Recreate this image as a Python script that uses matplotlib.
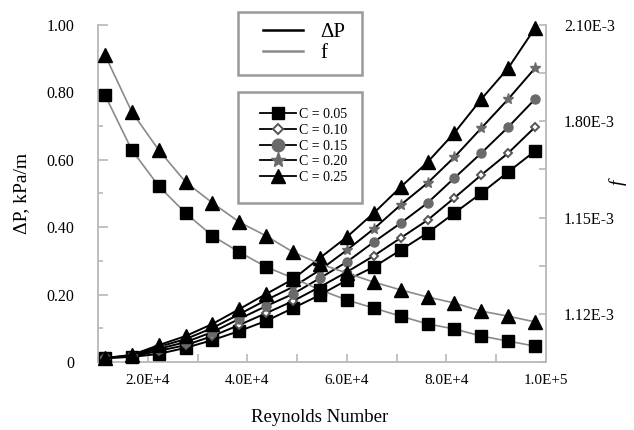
import matplotlib
matplotlib.use('Agg')
import matplotlib.pyplot as plt
from matplotlib.lines import Line2D
from matplotlib.patches import Rectangle
from matplotlib.ticker import FixedLocator, FixedFormatter, MultipleLocator

plt.rcParams['font.family'] = ['Liberation Serif', 'DejaVu Serif']

# ---------------- data ----------------
reynolds = [11400, 16800, 22200, 27600, 33000, 38400, 43800, 49200, 54600,
            60000, 65400, 70800, 76200, 81600, 87000, 92400, 97800]

dp_c005 = [0.012, 0.015, 0.024, 0.042, 0.065, 0.092, 0.122, 0.160, 0.199,
           0.243, 0.282, 0.332, 0.383, 0.442, 0.501, 0.564, 0.626]
dp_c010 = [0.012, 0.016, 0.033, 0.050, 0.077, 0.110, 0.145, 0.181, 0.223,
           0.267, 0.315, 0.368, 0.421, 0.487, 0.555, 0.620, 0.697]
dp_c015 = [0.012, 0.018, 0.039, 0.059, 0.089, 0.128, 0.166, 0.202, 0.249,
           0.297, 0.356, 0.412, 0.472, 0.546, 0.620, 0.697, 0.780]
dp_c020 = [0.012, 0.019, 0.045, 0.068, 0.101, 0.142, 0.184, 0.223, 0.273,
           0.332, 0.395, 0.466, 0.531, 0.608, 0.694, 0.780, 0.872]
dp_c025 = [0.012, 0.021, 0.050, 0.077, 0.113, 0.157, 0.202, 0.246, 0.309,
           0.371, 0.442, 0.519, 0.593, 0.680, 0.780, 0.872, 0.991]

# friction factor curves, drawn on the left-axis scale (as in the original)
f_c005 = [0.792, 0.629, 0.522, 0.442, 0.374, 0.326, 0.282, 0.249, 0.214,
          0.184, 0.160, 0.136, 0.113, 0.098, 0.077, 0.062, 0.047]
f_c025 = [0.911, 0.742, 0.629, 0.534, 0.472, 0.415, 0.374, 0.326, 0.291,
          0.264, 0.237, 0.214, 0.193, 0.175, 0.151, 0.136, 0.119]

c_labels = ['C = 0.05', 'C = 0.10', 'C = 0.15', 'C = 0.20', 'C = 0.25']
left_tick_labels = ['0', '0.20', '0.40', '0.60', '0.80', '1.00']
x_tick_labels = ['2.0E+4', '4.0E+4', '6.0E+4', '8.0E+4', '1.0E+5']
right_tick_labels = ['', '1.12E-3', '', '1.15E-3', '', '1.80E-3', '', '2.10E-3']

# ---------------- styles ----------------
GRAY_SPINE = '#b8b8b8'
GRAY_MARK = '#6a6a6a'
GRAY_F = '#8a8a8a'

styles = [
    dict(marker='s', ms=8.5, mfc='black', mec='black'),
    dict(marker='D', ms=4.5, mfc='white', mec='#555555', mew=1.4),
    dict(marker='o', ms=6.5, mfc=GRAY_MARK, mec=GRAY_MARK),
    dict(marker='*', ms=8, mfc=GRAY_MARK, mec=GRAY_MARK),
    dict(marker='^', ms=10.5, mfc='black', mec='black'),
]
legend_styles = [
    dict(marker='s', ms=9, mfc='black', mec='black'),
    dict(marker='D', ms=5, mfc='white', mec='#555555', mew=1.4),
    dict(marker='o', ms=9, mfc=GRAY_MARK, mec=GRAY_MARK),
    dict(marker='*', ms=11, mfc=GRAY_MARK, mec=GRAY_MARK),
    dict(marker='^', ms=10, mfc='black', mec='black'),
]

fig = plt.figure(figsize=(6.34, 4.30), dpi=100)
ax = fig.add_axes([98 / 634, 1 - 362 / 430, 448 / 634, 337 / 430])

dp_series = [dp_c005, dp_c010, dp_c015, dp_c020, dp_c025]
for vals, st in zip(dp_series, styles):
    ax.plot(reynolds, vals, color='black', lw=1.4, clip_on=False, zorder=3, **st)

ax.plot(reynolds, f_c005, color=GRAY_F, lw=1.2, clip_on=False, zorder=4, **styles[0])
ax.plot(reynolds, f_c025, color=GRAY_F, lw=1.2, clip_on=False, zorder=4, **styles[4])

ax.set_xlim(10000, 100000)
ax.set_ylim(0, 1.0)

for s in ['top', 'right']:
    ax.spines[s].set_visible(False)
for s in ['left', 'bottom']:
    ax.spines[s].set_color(GRAY_SPINE)
    ax.spines[s].set_linewidth(1.3)

ax.yaxis.set_major_locator(FixedLocator([0, 0.2, 0.4, 0.6, 0.8, 1.0]))
ax.yaxis.set_major_formatter(FixedFormatter(left_tick_labels))
ax.yaxis.set_minor_locator(MultipleLocator(0.1))
ax.xaxis.set_major_locator(FixedLocator([20000, 40000, 60000, 80000, 100000]))
ax.xaxis.set_major_formatter(FixedFormatter(x_tick_labels))
ax.xaxis.set_minor_locator(MultipleLocator(10000))

ax.tick_params(axis='y', which='major', direction='in', length=7, width=1.2,
               color=GRAY_SPINE, labelsize=11.5, pad=17)
ax.tick_params(axis='y', which='minor', direction='in', length=3.5, width=1.2,
               color=GRAY_SPINE)
ax.tick_params(axis='x', which='both', direction='in', length=6, width=1.2,
               color=GRAY_SPINE, labelsize=11, pad=9)

ax2 = ax.twinx()
ax2.set_ylim(0, 7)
for s in ['top', 'left', 'bottom']:
    ax2.spines[s].set_visible(False)
ax2.spines['right'].set_color(GRAY_SPINE)
ax2.spines['right'].set_linewidth(1.3)
ax2.yaxis.set_major_locator(FixedLocator(list(range(8))))
ax2.yaxis.set_major_formatter(FixedFormatter(right_tick_labels))
ax2.tick_params(axis='y', direction='in', length=5, width=1.2, color=GRAY_SPINE,
                labelsize=11.5, pad=13)

# axis labels
fig.text(22 / 634, 1 - 193 / 430, '\u0394P, kPa/m', rotation=90,
         ha='center', va='center', fontsize=14)
fig.text(320 / 634, 1 - 418 / 430, 'Reynolds Number', ha='center', va='center',
         fontsize=13.5)
fig.text(618 / 634, 1 - 182 / 430, 'f', rotation=90, style='italic',
         ha='center', va='center', fontsize=14)

# legend boxes
fig.add_artist(Rectangle((238 / 634, 1 - 75 / 430), 124 / 634, 63 / 430,
                         transform=fig.transFigure, facecolor='white',
                         edgecolor='#9a9a9a', lw=1.8, zorder=1))
fig.add_artist(Rectangle((238 / 634, 1 - 203 / 430), 124 / 634, 111 / 430,
                         transform=fig.transFigure, facecolor='white',
                         edgecolor='#9a9a9a', lw=1.8, zorder=1))

h1 = [Line2D([], [], color='black', lw=1.8), Line2D([], [], color=GRAY_F, lw=1.8)]
fig.legend(h1, ['\u0394P', 'f'], loc='center left',
           bbox_to_anchor=(263 / 634, 1 - 43 / 430), bbox_transform=fig.transFigure,
           frameon=False, borderpad=0, borderaxespad=0, fontsize=15,
           handlelength=1.9, handletextpad=0.85, labelspacing=0.08)

h2 = [Line2D([], [], color='black', lw=1.3, **st) for st in legend_styles]
fig.legend(h2, c_labels, loc='center left',
           bbox_to_anchor=(260 / 634, 1 - 146 / 430), bbox_transform=fig.transFigure,
           frameon=False, borderpad=0, borderaxespad=0, fontsize=10,
           handlelength=2.6, handletextpad=0.2, labelspacing=0.2)

fig.savefig('out.png', dpi=100)
